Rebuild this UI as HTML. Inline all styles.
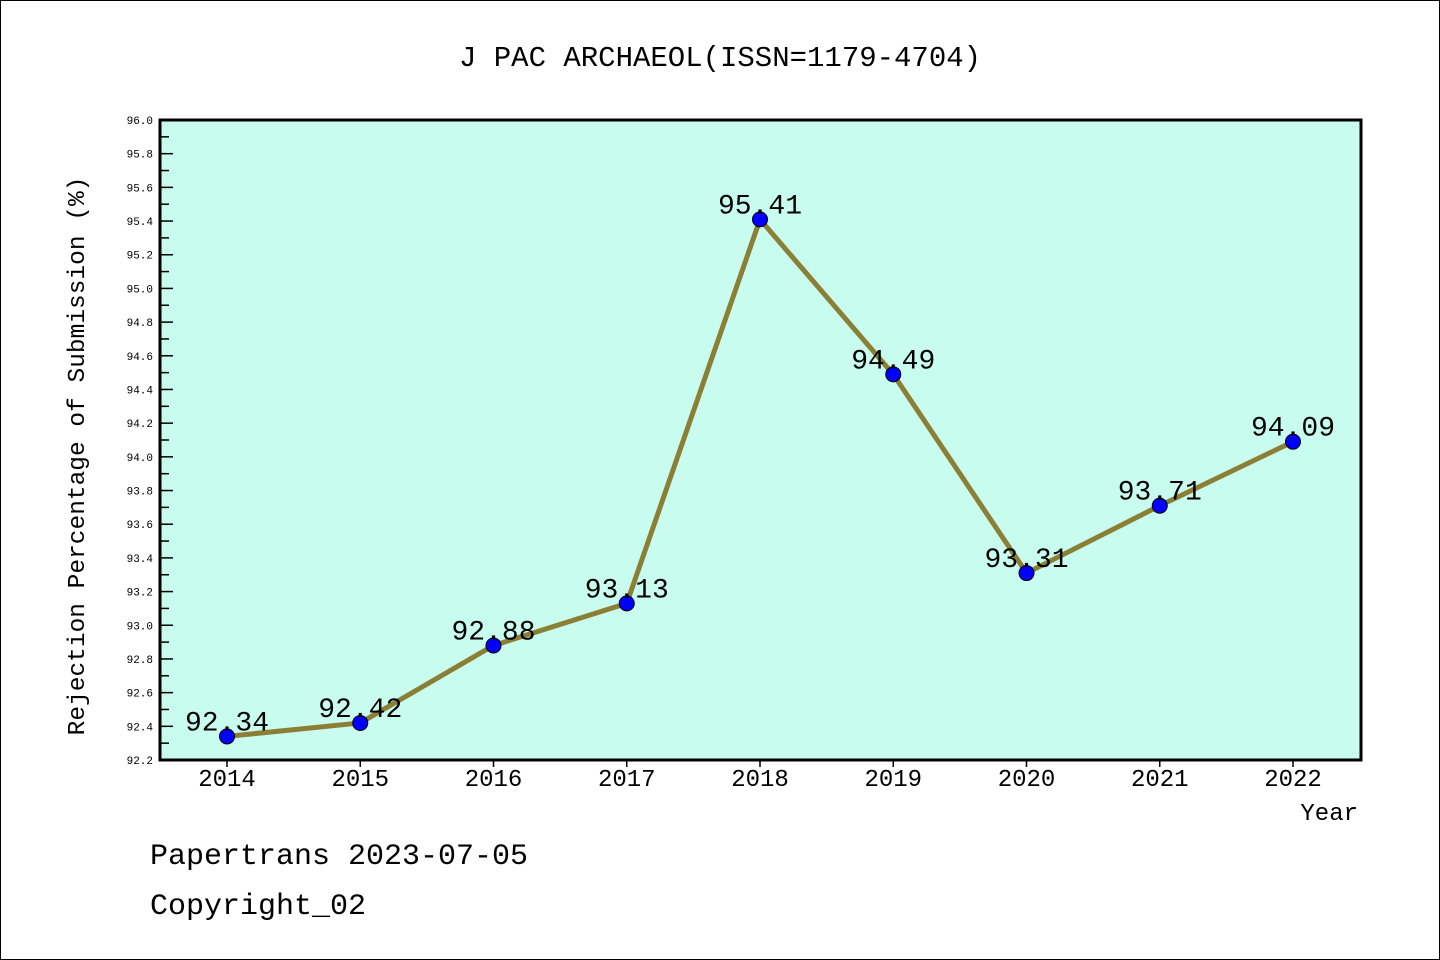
<!DOCTYPE html>
<html><head><meta charset="utf-8"><style>
html,body{margin:0;padding:0;background:#fff}
svg{display:block}
text{font-family:"Liberation Mono","DejaVu Sans Mono","Noto Sans CJK SC",monospace}
</style></head><body>
<svg width="1440" height="960" viewBox="0 0 1440 960" xmlns="http://www.w3.org/2000/svg">
<rect x="0.5" y="0.5" width="1439" height="959" fill="#fff" stroke="#000" stroke-width="1"/>
<text x="720" y="66" font-size="29" text-anchor="middle">J PAC ARCHAEOL(ISSN=1179-4704)</text>
<rect x="160" y="120" width="1201" height="640" fill="#c8fcee"/>
<g id="axes"></g>
<g id="marks"></g>
<rect x="160" y="120" width="1201" height="640" fill="none" stroke="#000" stroke-width="3"/>
<text transform="translate(84,456) rotate(-90)" font-size="24.5" text-anchor="middle">Rejection Percentage of Submission (%)</text>
<text x="1358" y="820" font-size="24" text-anchor="end">Year</text>
<text x="150" y="864" font-size="30">Papertrans 2023-07-05</text>
<text x="150" y="914" font-size="30">Copyright_02</text>
</svg>
<script>
const years=["2014","2015","2016","2017","2018","2019","2020","2021","2022"];
const rates=[92.34,92.42,92.88,93.13,95.41,94.49,93.31,93.71,94.09];
const yTicks=["92.2","92.4","92.6","92.8","93.0","93.2","93.4","93.6","93.8","94.0","94.2","94.4","94.6","94.8","95.0","95.2","95.4","95.6","95.8","96.0"];
const NS="http://www.w3.org/2000/svg";
const yMin=92.2,yMax=96.0,plotTop=120,plotBot=760;
const x0=227,dx=133.25;
function X(i){return x0+i*dx;}
function Y(v){return plotBot-(v-yMin)/(yMax-yMin)*(plotBot-plotTop);}
function mk(t,a,p){const e=document.createElementNS(NS,t);for(const k in a)e.setAttribute(k,a[k]);p.appendChild(e);return e;}
const ax=document.getElementById('axes'),mg=document.getElementById('marks');
yTicks.forEach((t,i)=>{const v=parseFloat(t),y=Y(v);
 const l=mk('line',{x1:160,x2:173,y1:y,y2:y,stroke:'#000','stroke-width':1.5},ax);
 
 
 const tx=mk('text',{x:153,y:y+4,'font-size':11,'text-anchor':'end'},ax);tx.textContent=t;
 
 
 if(i<yTicks.length-1){const ym=Y(v+0.1);
  const m=mk('line',{x1:160,x2:169,y1:ym,y2:ym,stroke:'#000','stroke-width':1.5},ax);
  
  }
});
years.forEach((yr,i)=>{const x=X(i);
 const l=mk('line',{x1:x,x2:x,y1:760,y2:767,stroke:'#000','stroke-width':1.5},ax);
 
 
 const t=mk('text',{x:x,y:786,'font-size':24,'text-anchor':'middle'},ax);t.textContent=yr;
 
 
});
const pts=rates.map((v,i)=>X(i)+','+Y(v)).join(' ');
const pl=mk('polyline',{points:pts,fill:'none',stroke:'#8b7f35','stroke-width':5,'stroke-linejoin':'round'},mg);


rates.forEach((v,i)=>{
 const c=mk('circle',{cx:X(i),cy:Y(v),r:7.5,fill:'#0000ff',stroke:'#000','stroke-width':1},mg);
 
 
 const t=mk('text',{x:X(i),y:Y(v)-6,'font-size':28,'text-anchor':'middle'},mg);t.textContent=v.toFixed(2);
 
 
});
</script>
</body></html>
